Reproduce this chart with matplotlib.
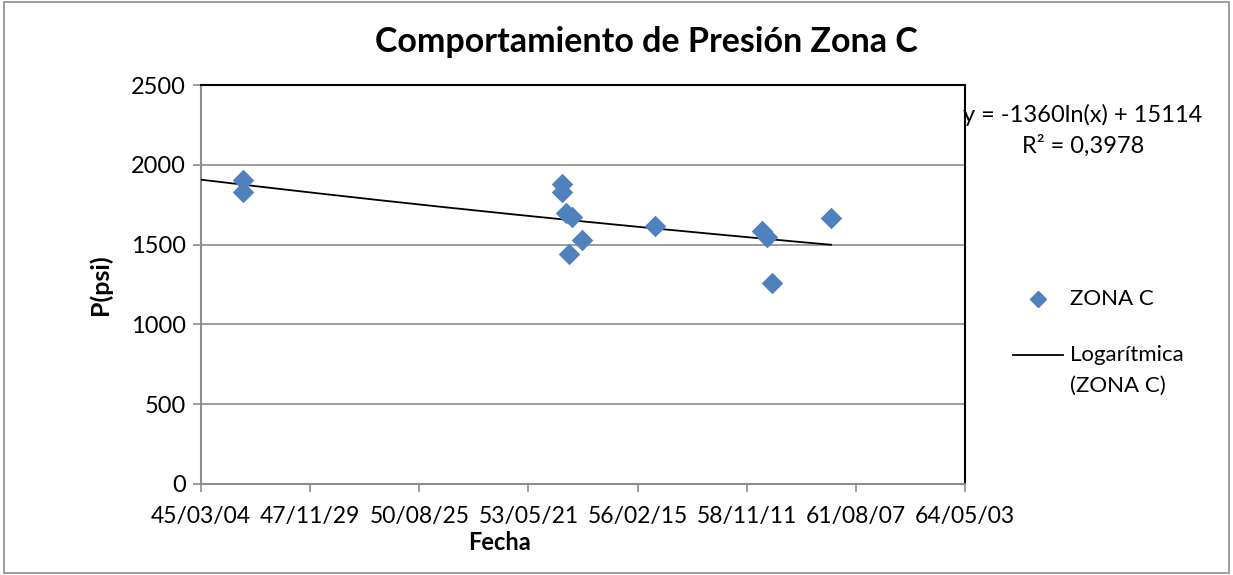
import numpy as np
import matplotlib.pyplot as plt
from matplotlib.lines import Line2D
from matplotlib.patches import Rectangle

# Data (x as Excel serial day numbers, y in psi)
fechas = [16885, 16885, 19808, 19808, 19845, 19900, 19872, 19991, 20660, 21640, 21686, 21732, 22272]
presion = [1905, 1830, 1880, 1830, 1698, 1673, 1441, 1529, 1617, 1585, 1548, 1259, 1667]
tick_vals = [16500, 17500, 18500, 19500, 20500, 21500, 22500, 23500]
tick_labels = ["45/03/04", "47/11/29", "50/08/25", "53/05/21", "56/02/15", "58/11/11", "61/08/07", "64/05/03"]
y_ticks = [0, 500, 1000, 1500, 2000, 2500]
coef_a, coef_b = -1360, 15114

plt.rcParams['font.family'] = ['Lato', 'DejaVu Sans']

W, H = 1233, 575
def fx(px): return px / W
def fy(py): return 1 - py / H

fig = plt.figure(figsize=(12.33, 5.75), dpi=100)
fig.patches.append(Rectangle((0.003, 0.003), 0.994, 0.994, transform=fig.transFigure,
                             fill=False, edgecolor='#8c8c8c', linewidth=1.2))
ax = fig.add_axes([fx(201), fy(484), (965-201)/W, (484-85)/H])

ax.set_xlim(tick_vals[0], tick_vals[-1])
ax.set_ylim(0, 2500)
ax.set_yticks(y_ticks)
ax.set_xticks(tick_vals)
ax.set_xticklabels(tick_labels)
ax.grid(axis='y', color='#8c8c8c', linewidth=1.2)
ax.set_axisbelow(True)
for s in ['top', 'right']:
    ax.spines[s].set_color('black')
    ax.spines[s].set_linewidth(1.5)
for s in ['left', 'bottom']:
    ax.spines[s].set_color('#8c8c8c')
    ax.spines[s].set_linewidth(1.5)
ax.tick_params(axis='both', length=6, width=1.2, color='#8c8c8c', labelsize=17, pad=5)
ax.tick_params(axis='x', direction='out', pad=10, labelsize=16.5)

xs = np.linspace(tick_vals[0], max(fechas), 200)
ax.plot(xs, coef_a*np.log(xs) + coef_b, color='black', linewidth=1.3, zorder=3)
ax.scatter(fechas, presion, marker='D', s=120, color='#4f81bd', zorder=4, linewidths=0)

fig.text(fx(100), fy(285), "P(psi)", rotation=90, ha='center', va='center',
         fontsize=18, fontweight='bold')
fig.text(fx(500), fy(543), "Fecha", ha='center', va='center', fontsize=17, fontweight='bold')
fig.text(fx(646), fy(42), "Comportamiento de Presión Zona C", ha='center', va='center',
         fontsize=24.5, fontweight='bold')

fig.text(fx(1083), fy(115), "y = -1360ln(x) + 15114", ha='center', va='center', fontsize=17)
fig.text(fx(1083), fy(146), "R² = 0,3978", ha='center', va='center', fontsize=17)

# Legend drawn manually
fig.add_artist(Line2D([fx(1038)], [fy(299)], marker='D', color='#4f81bd', linestyle='none',
                      markersize=8, transform=fig.transFigure))
fig.text(fx(1070), fy(299), "ZONA C", ha='left', va='center', fontsize=16)
fig.add_artist(Line2D([fx(1013), fx(1063)], [fy(355), fy(355)], color='black', linewidth=1.3,
                      transform=fig.transFigure))
fig.text(fx(1070), fy(355), "Logarítmica", ha='left', va='center', fontsize=16)
fig.text(fx(1070), fy(386), "(ZONA C)", ha='left', va='center', fontsize=16)

fig.savefig("out.png", dpi=100)
